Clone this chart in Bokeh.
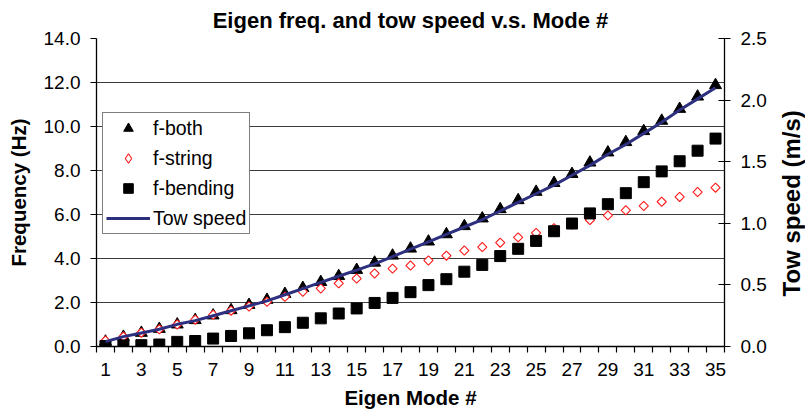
import math

from bokeh.core.properties import value
from bokeh.embed import file_html
from bokeh.layouts import row
from bokeh.models import (ColumnDataSource, FixedTicker, Legend, LegendItem,
                          LinearAxis, NumeralTickFormatter, Range1d)
from bokeh.plotting import figure
from bokeh.resources import INLINE

# Eigen mode numbers
modes = [1, 2, 3, 4, 5, 6, 7, 8, 9, 10, 11, 12, 13, 14, 15, 16, 17, 18,
         19, 20, 21, 22, 23, 24, 25, 26, 27, 28, 29, 30, 31, 32, 33, 34, 35]

# Eigen frequencies (Hz)
f_both = [0.22, 0.44, 0.62, 0.80, 1.00, 1.20, 1.41, 1.65, 1.89, 2.12,
          2.39, 2.66, 2.93, 3.20, 3.48, 3.81, 4.13, 4.45, 4.77, 5.10,
          5.47, 5.82, 6.24, 6.65, 7.03, 7.43, 7.84, 8.36, 8.82, 9.29,
          9.79, 10.26, 10.80, 11.36, 11.88]
f_string = [0.27, 0.45, 0.63, 0.78, 1.00, 1.22, 1.44, 1.63, 1.82, 2.03,
            2.26, 2.49, 2.64, 2.87, 3.09, 3.32, 3.54, 3.68, 3.91, 4.13,
            4.36, 4.52, 4.72, 4.96, 5.16, 5.38, 5.54, 5.75, 5.96, 6.19,
            6.39, 6.58, 6.80, 7.02, 7.22]
f_bending = [0.02, 0.05, 0.06, 0.09, 0.21, 0.25, 0.36, 0.48, 0.60, 0.74,
             0.88, 1.08, 1.28, 1.50, 1.73, 1.98, 2.21, 2.47, 2.79, 3.06,
             3.40, 3.71, 4.11, 4.44, 4.80, 5.24, 5.59, 6.05, 6.47, 6.97,
             7.47, 7.96, 8.42, 8.90, 9.45]

# Tow speed (m/s), secondary axis
tow_speed = [0.04, 0.08, 0.11, 0.14, 0.18, 0.21, 0.25, 0.29, 0.33, 0.37,
             0.42, 0.47, 0.52, 0.57, 0.62, 0.67, 0.73, 0.79, 0.85, 0.91,
             0.97, 1.03, 1.10, 1.17, 1.24, 1.31, 1.39, 1.47, 1.56, 1.64,
             1.73, 1.82, 1.92, 2.01, 2.10]

x_tick_labels = [1, 3, 5, 7, 9, 11, 13, 15, 17, 19, 21, 23, 25, 27, 29, 31, 33, 35]
freq_ticks = [0, 2, 4, 6, 8, 10, 12, 14]
speed_ticks = [0, 0.5, 1.0, 1.5, 2.0, 2.5]

FONT = "Liberation Sans"
STRIP_W = 32   # narrow strip on the right holding the tow-speed axis title

src = ColumnDataSource(dict(mode=modes, both=f_both, string=f_string,
                            bending=f_bending, speed=tow_speed))

p = figure(width=805 - STRIP_W, height=413, output_backend="svg",
           toolbar_location=None,
           x_range=Range1d(0.5, 35.5), y_range=Range1d(0, 14),
           min_border_left=96, min_border_right=81 - STRIP_W,
           min_border_top=37, min_border_bottom=67)
p.extra_y_ranges = {"speed": Range1d(0, 2.5)}

p.title.text = "Eigen freq. and tow speed v.s. Mode #"
p.title.align = "center"
p.title.text_font = FONT
p.title.text_font_size = "22px"
p.title.text_font_style = "bold"
p.title.text_color = "black"
p.title.standoff = 11

p.outline_line_color = None
p.background_fill_color = "white"
p.border_fill_color = "white"

# horizontal grid
p.xgrid.visible = False
p.ygrid.ticker = FixedTicker(ticks=freq_ticks[1:])
p.ygrid.grid_line_color = "#3c3c3c"
p.ygrid.grid_line_width = 1.2

# bottom axis: labels on odd modes, ticks between categories
xa = p.xaxis[0]
xa.ticker = FixedTicker(ticks=x_tick_labels,
                        minor_ticks=[m - 0.5 for m in modes] + [35.5])
xa.major_tick_out = 0
xa.major_tick_in = 0
xa.minor_tick_out = 6
xa.minor_tick_in = 0
xa.minor_tick_line_color = "black"
xa.minor_tick_line_width = 1.2
xa.major_label_standoff = 10
xa.axis_label = "Eigen Mode #"
xa.axis_label_standoff = 7

# left axis
ya = p.yaxis[0]
ya.ticker = FixedTicker(ticks=freq_ticks)
ya.formatter = NumeralTickFormatter(format="0.0")
ya.major_tick_out = 6
ya.major_tick_in = 0
ya.minor_tick_out = 0
ya.minor_tick_in = 0
ya.major_label_standoff = 10
ya.axis_label = "Frequency (Hz)"
ya.axis_label_standoff = 11

# right axis for tow speed
ra = LinearAxis(y_range_name="speed", ticker=FixedTicker(ticks=speed_ticks),
                formatter=NumeralTickFormatter(format="0.0"))
ra.major_tick_out = 6
ra.major_tick_in = 6
ra.minor_tick_out = 0
ra.minor_tick_in = 0
ra.major_label_standoff = 10
p.add_layout(ra, "right")

for ax in (xa, ya, ra):
    ax.axis_line_color = "black"
    ax.axis_line_width = 1.3
    ax.major_label_text_font = FONT
    ax.major_label_text_font_size = "19px"
    ax.major_label_text_color = "black"
    ax.axis_label_text_font = FONT
    ax.axis_label_text_font_size = "20.5px"
    ax.axis_label_text_font_style = "bold"
    ax.axis_label_text_color = "black"
    ax.major_tick_line_color = "black"
    ax.major_tick_line_width = 1.2

r_both = p.scatter("mode", "both", source=src, marker="triangle", size=12,
                   fill_color="black", line_color="black")
r_string = p.scatter("mode", "string", source=src, marker="square", size=6.5,
                     angle=math.pi / 4, fill_color="white",
                     line_color="#ff1a1a", line_width=1.1)
r_bend = p.scatter("mode", "bending", source=src, marker="square", size=11,
                   fill_color="black", line_color="black")
r_speed = p.line("mode", "speed", source=src, y_range_name="speed",
                 line_color="#2d2f7f", line_width=3)

# legend swatch for the open red diamonds (its point lies outside the ranges)
key_string = p.scatter(x=[-50], y=[-50], marker="diamond", size=11,
                       fill_color="white", line_color="#ff1a1a", line_width=1.1)

legend = Legend(items=[
    LegendItem(label="f-both", renderers=[r_both]),
    LegendItem(label="f-string", renderers=[key_string]),
    LegendItem(label="f-bending", renderers=[r_bend]),
    LegendItem(label="Tow speed", renderers=[r_speed]),
], location=(6, 112))
legend.label_text_font = FONT
legend.label_text_font_size = "19.5px"
legend.label_text_color = "black"
legend.glyph_width = 44
legend.glyph_height = 24
legend.label_height = 24
legend.label_standoff = 3
legend.spacing = 6
legend.padding = 3
legend.margin = 0
legend.border_line_color = "black"
legend.border_line_width = 1
legend.background_fill_color = "white"
legend.background_fill_alpha = 1.0
p.add_layout(legend, "center")

# right-hand strip: tow-speed axis title reading bottom to top
strip = figure(width=STRIP_W, height=413, output_backend="svg",
               toolbar_location=None, x_axis_location=None,
               y_axis_location=None, x_range=Range1d(0, STRIP_W),
               y_range=Range1d(0, 413), min_border=0)
strip.outline_line_color = None
strip.grid.visible = False
strip.border_fill_color = "white"
strip.text(x=[17.5], y=[192], text=["Tow speed (m/s)"], angle=math.pi / 2,
           text_align="center", text_baseline="middle",
           text_font=value(FONT), text_font_size="24px",
           text_font_style="bold", text_color="black")

layout = row(p, strip, spacing=0)
open("out.html", "w").write(file_html(layout, INLINE))
